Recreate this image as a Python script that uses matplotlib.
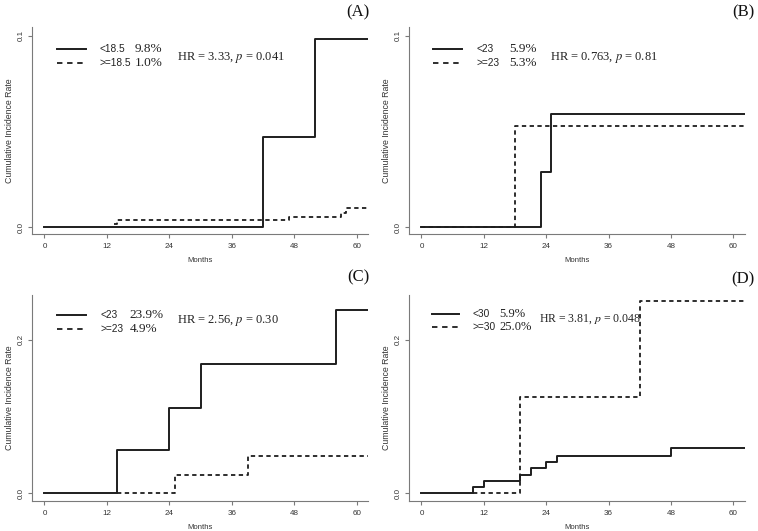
import matplotlib.pyplot as plt
import numpy as np

# Step times (months) and cumulative incidence after each step
FOLLOW_UP = 62.2

A_LOW_T = [0, 42, 52]
A_LOW_Y = [0.0, 0.047, 0.098]
A_HIGH_T = [13.3, 14, 47, 57, 58]
A_HIGH_Y = [0.0017, 0.0036, 0.0052, 0.0075, 0.010]

B_LOW_T = [0, 23, 25]
B_LOW_Y = [0.0, 0.029, 0.059]
B_HIGH_T = [0, 18]
B_HIGH_Y = [0.0, 0.053]

C_LOW_T = [0, 14, 24, 30, 56]
C_LOW_Y = [0.0, 0.056, 0.111, 0.169, 0.239]
C_HIGH_T = [14, 25, 39]
C_HIGH_Y = [0.0, 0.024, 0.049]

D_LOW_T = [0, 10, 12, 19, 21, 24, 26, 48]
D_LOW_Y = [0.0, 0.008, 0.016, 0.024, 0.033, 0.041, 0.049, 0.059]
D_HIGH_T = [10, 19, 42]
D_HIGH_Y = [0.0, 0.125, 0.250]

PANELS = ["(A)", "(B)", "(C)", "(D)"]
GROUPS = [("<18.5", ">=18.5"), ("<23", ">=23"), ("<23", ">=23"), ("<30", ">=30")]
FINALS = [("9.8%", "1.0%"), ("5.9%", "5.3%"), ("23.9%", "4.9%"), ("5.9%", "25.0%")]
HR_TEXT = [("3.33", "0.041"), ("0.763", "0.81"), ("2.56", "0.30"), ("3.81", "0.048")]

SERIF = "Liberation Serif"
SANS = "Liberation Sans"
LINE_C = "#1e1e1e"
AXIS_C = "#7a7a7a"
TEXT_C = "#333333"
DASH = (0, (2.4, 1.9))
LEG_DASH = (0, (3.0, 2.6))


def steps(t, y):
    return list(t) + [FOLLOW_UP], list(y) + [y[-1]]


def style_axes(ax, ylim, yticks):
    ax.set_xlim(-2.4, 62.2)
    ax.set_ylim(*ylim)
    ax.set_xticks([0, 12, 24, 36, 48, 60])
    ax.set_yticks(yticks)
    ax.set_yticklabels([f"{v:.1f}" for v in yticks], rotation=90, va="center")
    for s in ["top", "right"]:
        ax.spines[s].set_visible(False)
    for s in ["left", "bottom"]:
        ax.spines[s].set_color(AXIS_C)
        ax.spines[s].set_linewidth(0.8)
    ax.tick_params(colors=AXIS_C, labelcolor=TEXT_C, length=3, width=0.8,
                   labelsize=5.8)
    ax.tick_params(axis="y", pad=2)
    for lab in ax.get_xticklabels() + ax.get_yticklabels():
        lab.set_family(SANS)
    ax.set_xlabel("Months", fontsize=5.6, family=SANS, color=TEXT_C, labelpad=5)
    ax.set_ylabel("Cumulative Incidence Rate", fontsize=6.3, family=SANS,
                  color=TEXT_C)
    ax.yaxis.set_label_coords(-0.054, 0.5)


fig = plt.figure(figsize=(7.58, 5.31), dpi=100)

boxes = [
    [0.0422, 0.5593, 0.4437, 0.3898],
    [0.5396, 0.5593, 0.4429, 0.3898],
    [0.0422, 0.0565, 0.4437, 0.3880],
    [0.5396, 0.0565, 0.4429, 0.3880],
]
data = [
    (A_LOW_T, A_LOW_Y, A_HIGH_T, A_HIGH_Y),
    (B_LOW_T, B_LOW_Y, B_HIGH_T, B_HIGH_Y),
    (C_LOW_T, C_LOW_Y, C_HIGH_T, C_HIGH_Y),
    (D_LOW_T, D_LOW_Y, D_HIGH_T, D_HIGH_Y),
]
ylims = [(-0.0035, 0.1045), (-0.0035, 0.1045), (-0.010, 0.2585), (-0.010, 0.2585)]
yticks = [[0.0, 0.1], [0.0, 0.1], [0.0, 0.2], [0.0, 0.2]]

# legend placement in axes fraction: line x0, x1, y solid, y dashed, label x, pct x, hr x, hr y
leg = [
    (0.074, 0.161, 0.895, 0.826, 0.202, 0.306, 0.431, 0.855, 9),
    (0.0715, 0.158, 0.895, 0.826, 0.200, 0.298, 0.420, 0.855, 9),
    (0.074, 0.161, 0.903, 0.835, 0.204, 0.291, 0.431, 0.874, 9),
    (0.0685, 0.149, 0.909, 0.846, 0.188, 0.270, 0.387, 0.883, 8.5),
]
letter_pos = [(0.487, 0.977), (0.995, 0.977), (0.487, 0.477), (0.995, 0.473)]

for i in range(4):
    ax = fig.add_axes(boxes[i])
    lt, ly, ht, hy = data[i]
    x, y = steps(ht, hy)
    ax.step(x, y, where="post", color=LINE_C, lw=1.3, linestyle=DASH)
    x, y = steps(lt, ly)
    ax.step(x, y, where="post", color=LINE_C, lw=1.4)
    style_axes(ax, ylims[i], yticks[i])

    x0, x1, ys, yd, xl, xp, xh, yh, fs = leg[i]
    ax.plot([x0, x1], [ys, ys], transform=ax.transAxes, color=LINE_C, lw=1.4)
    ax.plot([x0, x1], [yd, yd], transform=ax.transAxes, color=LINE_C, lw=1.3,
            linestyle=LEG_DASH)
    for yy, g, p in [(ys, GROUPS[i][0], FINALS[i][0]), (yd, GROUPS[i][1], FINALS[i][1])]:
        ax.text(xl, yy, g, transform=ax.transAxes, fontsize=7.3, family=SANS,
                va="center", ha="left", color="#222222")
        ax.text(xp, yy, p, transform=ax.transAxes, fontsize=fs + 0.5, family=SERIF,
                va="center", ha="left", color="#222222")
    hr, pv = HR_TEXT[i]
    ax.text(xh, yh, f"HR = {hr}, $p$ = {pv}", transform=ax.transAxes, fontsize=fs,
            family=SERIF, va="center", ha="left", color="#222222",
            math_fontfamily="stix")

    lx, lyy = letter_pos[i]
    fig.text(lx, lyy, PANELS[i], fontsize=12, family=SERIF, ha="right",
             va="center", color="#111111")

fig.savefig("out.png", dpi=100)
